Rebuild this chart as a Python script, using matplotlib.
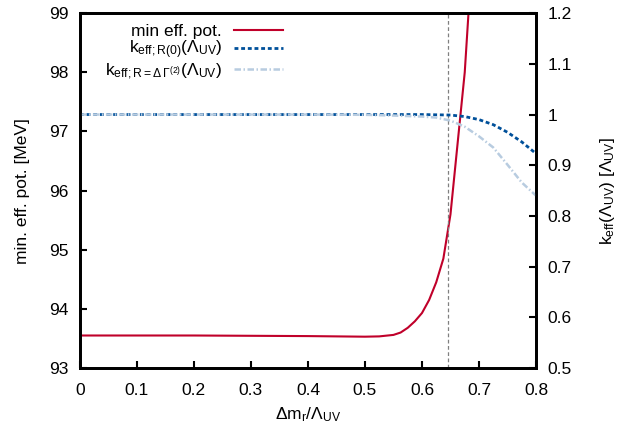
import matplotlib
matplotlib.use('Agg')
import matplotlib.pyplot as plt

plt.rcParams['font.family'] = ['Liberation Sans', 'DejaVu Sans']
plt.rcParams['mathtext.fontset'] = 'custom'
plt.rcParams['mathtext.rm'] = 'Liberation Sans'
plt.rcParams['mathtext.it'] = 'Liberation Sans'
plt.rcParams['mathtext.sf'] = 'Liberation Sans'

# Daten
x_pot = [0.0, 0.1, 0.2, 0.3, 0.4, 0.45, 0.5, 0.525, 0.55, 0.5625, 0.575, 0.5875,
         0.6, 0.6125, 0.625, 0.6375, 0.65, 0.6625, 0.675, 0.6875]
min_pot = [93.55, 93.55, 93.55, 93.545, 93.54, 93.535, 93.53, 93.535, 93.56, 93.60,
           93.68, 93.79, 93.93, 94.15, 94.45, 94.85, 95.6, 96.8, 98.0, 99.9]

x_k = [0.0, 0.1, 0.2, 0.3, 0.4, 0.5, 0.55, 0.6, 0.625, 0.65, 0.675, 0.7, 0.725,
       0.75, 0.775, 0.8]
k_r0 = [1.0, 1.0, 1.0, 1.0, 1.0, 1.0, 1.0, 1.0, 0.9995, 0.999, 0.996, 0.990, 0.980,
        0.965, 0.946, 0.923]
k_gamma = [1.0, 1.0, 1.0, 1.0, 1.0, 0.9995, 0.998, 0.996, 0.994, 0.988, 0.976, 0.957,
           0.935, 0.901, 0.866, 0.840]

x_vline = 0.645

fig = plt.figure(figsize=(6.24, 4.24), dpi=100)
ax = fig.add_axes([0.128, 0.132, 0.731, 0.837])
ax2 = ax.twinx()

l1, = ax.plot(x_pot, min_pot, color='#c0002a', lw=1.5, label='min eff. pot.')
ax.axvline(x_vline, color='#808080', lw=0.9, ls=(0, (3, 2)))
l2, = ax2.plot(x_k, k_r0, color='#00509a', lw=2.0, ls=(0, (1.4, 1.0)),
               label=r'$\mathrm{k_{eff;R(0)}(\Lambda_{UV})}$')
l3, = ax2.plot(x_k, k_gamma, color='#b8cce0', lw=1.8, ls=(0, (2.6, 1.0, 0.6, 1.0)),
               label=r'$\mathrm{k_{eff;R=\Delta\,\Gamma^{(2)}}(\Lambda_{UV})}$')

ax.set_xlim(0, 0.8)
ax.set_ylim(93, 99)
ax2.set_ylim(0.5, 1.2)
ax.set_xticks([0, 0.1, 0.2, 0.3, 0.4, 0.5, 0.6, 0.7, 0.8])
ax.set_xticklabels(['0', '0.1', '0.2', '0.3', '0.4', '0.5', '0.6', '0.7', '0.8'])
ax.set_yticks(range(93, 100))
ax2.set_yticks([0.5, 0.6, 0.7, 0.8, 0.9, 1.0, 1.1, 1.2])
ax2.set_yticklabels(['0.5', '0.6', '0.7', '0.8', '0.9', '1', '1.1', '1.2'])

for a in (ax, ax2):
    for s in a.spines.values():
        s.set_linewidth(2)
ax.tick_params(axis='y', direction='in', length=5, width=1.5, labelsize=12.5, pad=8)
ax.tick_params(axis='x', direction='in', length=5, width=1.5, labelsize=12.5, pad=11)
ax2.tick_params(direction='in', length=5, width=1.5, labelsize=12.5, pad=8)

ax.set_xlabel(r'$\mathrm{\Delta m_r/\Lambda_{UV}}$', fontsize=12.5, labelpad=5)
ax.set_ylabel('min. eff. pot. [MeV]', fontsize=12.5, labelpad=14)
ax2.set_ylabel(r'$\mathrm{k_{eff}(\Lambda_{UV})\ [\Lambda_{UV}]}$', fontsize=12.5, labelpad=19)

ax2.legend(handles=[l1, l2, l3], loc='upper right', bbox_to_anchor=(0.468, 1.0),
           frameon=False, markerfirst=False, fontsize=12.5, handlelength=2.8,
           handletextpad=0.7, labelspacing=0.0, borderaxespad=0.2)

fig.savefig('out.png', dpi=100)
